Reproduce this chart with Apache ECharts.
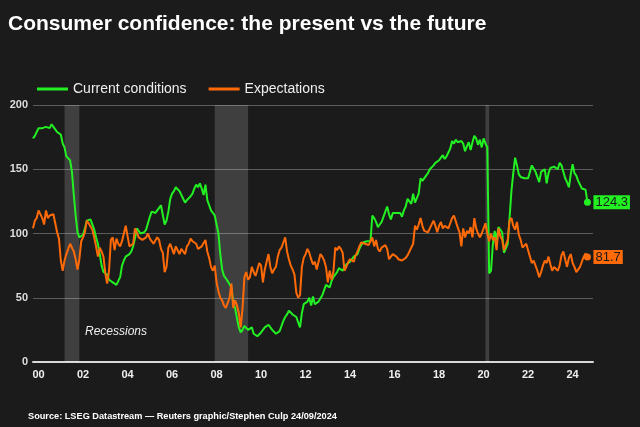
<!DOCTYPE html>
<html><head><meta charset="utf-8">
<script src="https://cdn.jsdelivr.net/npm/echarts/dist/echarts.min.js"></script>
<style>html,body{margin:0;padding:0;background:#1b1b1b}#c{width:640px;height:427px}</style>
</head><body><div id="c"></div>
<script>
// Monthly data, Oct 1999 .. Sep 2024
const startYear = 1999, startMonth = 10;
const current = [
174,176,179,
182,183,182,181,183,182,182,185,183,181,179,178,
177,170,167,160,159,157,148,130,114,101,97,96,
99,104,110,111,111,110,103,97,92,84,75,70,
69,68,64,63,62,61,60,60,66,75,79,82,
83,84,86,90,96,104,103,100,100,101,103,108,
113,117,118,116,118,120,122,123,107,110,117,127,
131,133,136,135,133,132,127,124,126,127,129,131,
135,138,136,139,135,130,138,126,122,118,116,114,
113,100,84,72,67,65,63,62,58,46,42,34,
27,23,25,28,27,25,25,27,22,21,20,21,
23,24,27,28,29,27,25,24,22,23,24,28,
32,35,37,40,39,37,36,35,34,27,38,45,
46,47,50,44,51,45,45,47,47,52,56,60,
59,58,63,66,67,70,73,72,71,74,76,77,
78,80,82,83,84,88,91,93,92,94,93,94,
114,112,109,105,107,109,113,117,121,115,111,116,
117,116,115,116,113,118,121,127,125,123,131,124,
125,131,143,141,140,145,147,150,149,153,155,156,
157,159,161,158,160,163,166,172,170,173,171,170,
172,170,164,168,171,165,171,176,174,169,173,167,
174,170,167,69,71,92,102,95,105,106,101,85,
86,92,112,133,147,159,153,146,144,144,143,144,
143,143,153,152,148,147,140,148,149,150,139,147,
151,151,152,151,150,155,153,148,143,140,136,146,
154,147,145,141,138,135,135,134,124.3
];
const expectations = [
104,110,112,
118,117,112,107,118,112,114,114,115,108,101,96,
79,71,79,84,88,92,92,86,80,72,80,94,
97,101,110,108,108,103,97,90,82,89,86,82,
69,61,71,95,97,87,96,92,90,94,100,106,
98,90,91,92,104,101,97,96,95,95,97,100,
96,94,92,93,97,95,88,85,70,74,89,92,
88,84,90,87,84,88,86,84,90,92,96,94,
95,92,88,87,90,89,95,86,81,74,71,75,
62,55,50,48,44,42,41,50,61,42,48,44,
38,27,42,66,70,64,66,74,70,67,72,77,
75,62,72,78,84,74,69,72,74,82,87,89,
93,97,86,80,75,72,68,54,50,52,74,81,
84,88,85,80,76,78,72,73,84,82,79,74,
62,71,64,70,89,87,90,88,85,71,74,78,
80,81,78,83,86,90,93,94,92,93,91,94,
97,90,95,88,86,89,90,91,88,80,82,84,
84,82,80,80,79,80,81,83,86,86,92,106,
103,107,112,106,102,103,101,104,105,110,106,101,
106,109,104,106,105,104,108,112,114,113,105,101,
90,104,97,102,100,105,97,112,104,100,97,100,
101,108,100,94,100,95,97,87,104,98,95,87,
86,95,110,112,106,103,109,99,95,89,90,92,
87,82,77,79,75,71,66,70,75,79,77,82,
76,71,74,73,71,75,83,86,80,74,81,84,
77,74,70,69,74,78,82,84.5,81.7
];
const xTicks = [2000,2002,2004,2006,2008,2010,2012,2014,2016,2018,2020,2022,2024];
const xTickLabels = ['00','02','04','06','08','10','12','14','16','18','20','22','24'];
// recession periods: [start year, start month, end year, end month]
const recessions = [[2001,3,2001,11],[2007,12,2009,6],[2020,2,2020,4]];

const seriesNames = ['Current conditions','Expectations'];
const colors = ['#22f022','#ff6a08'];

function toX(i){ return startYear + (startMonth - 1 + i) / 12; }
function ym(y, m){ return y + (m - 1) / 12; }

const F = "'Liberation Sans', Arial, sans-serif";

function mkSeries(name, arr, color, labelText, extra){
  const last = arr.length - 1;
  return Object.assign({
    name: name,
    type: 'line',
    data: arr.map((v, i) => [toX(i), v]),
    color: color,
    lineStyle: {width: 2, color: color},
    symbol: 'circle',
    showSymbol: true,
    symbolSize: (v, p) => p.dataIndex === last ? 7 : 0,
    itemStyle: {color: color},
    z: 3,
    endLabel: {
      show: true,
      formatter: labelText,
      backgroundColor: color,
      color: '#1b1b1b',
      fontFamily: F,
      fontSize: 13,
      padding: [1, 2, 0, 2],
      distance: 6
    },
    animation: false
  }, extra || {});
}

const chart = echarts.init(document.getElementById('c'), null, {renderer: 'canvas'});
chart.setOption({
  backgroundColor: '#1b1b1b',
  animation: false,
  title: {
    text: 'Consumer confidence: the present vs the future',
    left: 3, top: 9,
    textStyle: {color: '#ffffff', fontSize: 21, fontWeight: 'bold', fontFamily: F}
  },
  legend: {
    data: seriesNames,
    left: 32, top: 77,
    icon: 'rect',
    itemWidth: 31, itemHeight: 3,
    itemGap: 22,
    textStyle: {color: '#eeeeee', fontSize: 14, fontFamily: F}
  },
  grid: {left: 33, right: 47, top: 105, bottom: 65},
  xAxis: {
    type: 'value',
    min: ym(1999,10), max: ym(2024,12),
    splitLine: {show: false},
    axisLine: {show: true, lineStyle: {color: '#d8d8d8', width: 2}},
    axisTick: {show: false},
    axisLabel: {
      customValues: xTicks,
      formatter: v => xTickLabels[xTicks.indexOf(Math.round(v))] || '',
      color: '#eeeeee', fontWeight: 'bold', fontSize: 11, fontFamily: F, margin: 7
    }
  },
  yAxis: {
    type: 'value',
    min: 0, max: 200, interval: 50,
    axisLine: {show: false},
    axisTick: {show: false},
    splitLine: {lineStyle: {color: '#5c5c5c', width: 1}},
    axisLabel: {color: '#dddddd', fontWeight: 'bold', fontSize: 11, fontFamily: F, margin: 5}
  },
  graphic: [
    {type: 'text', left: 85, top: 326,
     style: {text: 'Recessions', fill: '#eeeeee', font: "italic 12px 'Liberation Sans', Arial, sans-serif"}},
    {type: 'text', left: 28, top: 412,
     style: {text: 'Source: LSEG Datastream \u2014 Reuters graphic/Stephen Culp 24/09/2024', fill: '#ffffff',
       font: "bold 9.2px 'Liberation Sans', Arial, sans-serif"}}
  ],
  series: [
    mkSeries(seriesNames[0], current, colors[0], '124.3', {
      markArea: {
        silent: true,
        itemStyle: {color: 'rgba(255,255,255,0.16)'},
        data: recessions.map(r => [{xAxis: ym(r[0], r[1])}, {xAxis: ym(r[2], r[3])}])
      }
    }),
    mkSeries(seriesNames[1], expectations, colors[1], '81.7')
  ]
});
</script>
</body></html>
